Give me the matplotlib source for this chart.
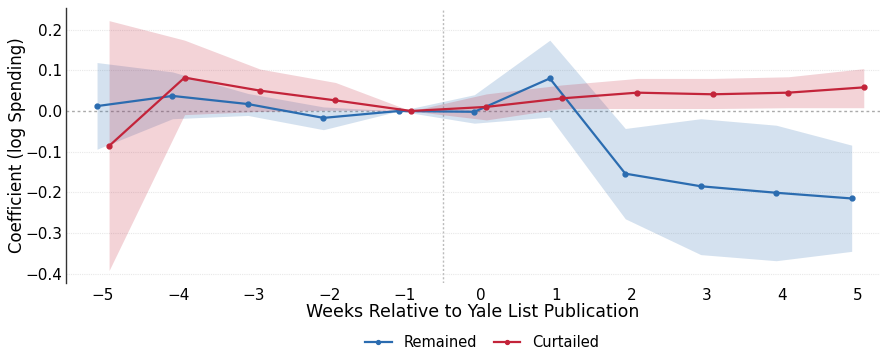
import matplotlib
matplotlib.use("Agg")
import matplotlib.pyplot as plt
import numpy as np

weeks = [-5, -4, -3, -2, -1, 0, 1, 2, 3, 4, 5]

remained = [0.012, 0.037, 0.017, -0.017, 0.0, -0.002, 0.080, -0.154, -0.185, -0.201, -0.215]
remained_hi = [0.119, 0.096, 0.043, 0.010, 0.0, 0.040, 0.174, -0.043, -0.019, -0.035, -0.084]
remained_lo = [-0.094, -0.019, -0.011, -0.046, 0.0, -0.030, -0.015, -0.265, -0.353, -0.368, -0.345]

curtailed = [-0.086, 0.082, 0.050, 0.026, 0.0, 0.010, 0.031, 0.045, 0.041, 0.045, 0.058]
curtailed_hi = [0.222, 0.174, 0.103, 0.070, 0.0, 0.042, 0.064, 0.080, 0.080, 0.084, 0.104]
curtailed_lo = [-0.392, -0.009, -0.001, 0.002, 0.0, -0.022, 0.006, 0.006, 0.006, 0.008, 0.008]

yticks = [0.2, 0.1, 0.0, -0.1, -0.2, -0.3, -0.4]

blue = "#2b6cb0"
red = "#c3243a"
off = 0.08

fig = plt.figure(figsize=(8.93, 3.49), dpi=100)
ax = fig.add_axes([0.074, 0.19, 0.911, 0.787])

x = np.array(weeks, dtype=float)
xb = x - off
xr = x + off

ax.fill_between(xb, remained_lo, remained_hi, color=blue, alpha=0.2, linewidth=0)
ax.fill_between(xr, curtailed_lo, curtailed_hi, color=red, alpha=0.2, linewidth=0)
ax.plot(xb, remained, color=blue, marker="o", markersize=3.5, linewidth=1.6, label="Remained")
ax.plot(xr, curtailed, color=red, marker="o", markersize=3.5, linewidth=1.6, label="Curtailed")

ax.axhline(0, color="#aaaaaa", linestyle=(0, (2, 2)), linewidth=1, zorder=0)
ax.axvline(-0.5, color="#bbbbbb", linestyle=(0, (1.5, 1.5)), linewidth=1, zorder=0)

for yt in yticks:
    if yt != 0:
        ax.axhline(yt, color="#e8e8e8", linestyle=(0, (1, 1)), linewidth=0.8, zorder=0)

ax.set_xlim(-5.49, 5.29)
ax.set_ylim(-0.422, 0.253)
ax.set_xticks(weeks)
ax.set_xticklabels([f"\u2212{abs(w)}" if w < 0 else str(w) for w in weeks])
ax.set_yticks(yticks)
ax.set_yticklabels([f"\u2212{abs(t):.1f}" if t < 0 else f"{t:.1f}" for t in yticks])
ax.tick_params(axis="y", length=0, labelsize=11, pad=3)
ax.tick_params(axis="x", length=0, labelsize=11, pad=4)

for s in ["top", "right", "bottom"]:
    ax.spines[s].set_visible(False)
ax.spines["left"].set_color("#333333")
ax.spines["left"].set_linewidth(1.0)

ax.set_xlabel("Weeks Relative to Yale List Publication", fontsize=12.5, labelpad=0)
ax.set_ylabel("Coefficient (log Spending)", fontsize=12, labelpad=-0.5)

fig.legend(handles=ax.get_lines()[:2], labels=["Remained", "Curtailed"],
           loc="center", ncol=2, frameon=False, fontsize=10.5,
           bbox_to_anchor=(0.54, 0.018), handlelength=1.8, columnspacing=1.2,
           markerscale=0.8)

fig.savefig("out.png", dpi=100)
